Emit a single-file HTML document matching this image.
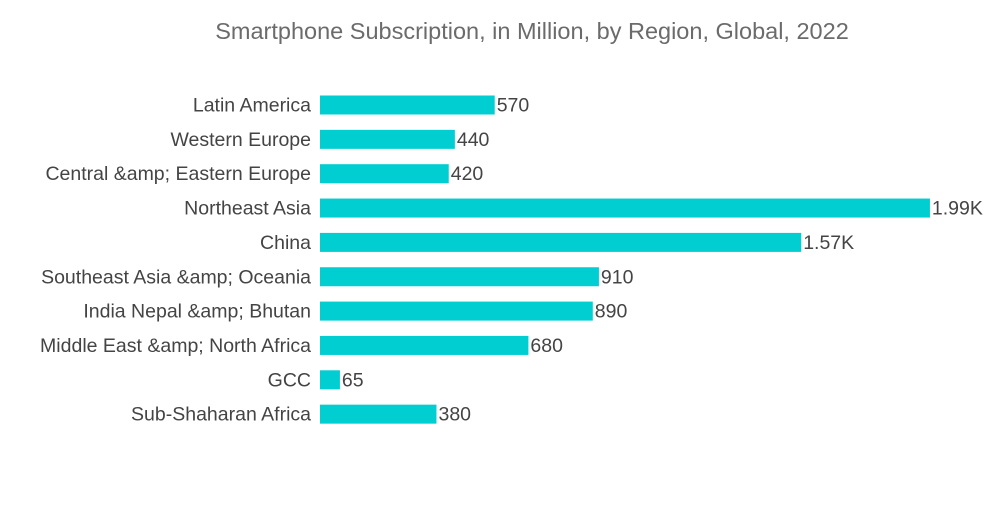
<!DOCTYPE html>
<html><head><meta charset="utf-8"><style>
body{margin:0;background:#fff;width:1000px;height:504px;overflow:hidden;font-family:"Liberation Sans",sans-serif}
</style></head><body>
<svg width="1000" height="504">
<text x="532" y="39" text-anchor="middle" font-size="23.5" fill="#6b6b6b">Smartphone Subscription, in Million, by Region, Global, 2022</text>
<g id="bars"></g>
</svg>
<script>
const categories=["Latin America","Western Europe","Central &amp; Eastern Europe","Northeast Asia","China","Southeast Asia &amp; Oceania","India Nepal &amp; Bhutan","Middle East &amp; North Africa","GCC","Sub-Shaharan Africa"];
const values=[570,440,420,1990,1570,910,890,680,65,380];
const valueLabels=["570","440","420","1.99K","1.57K","910","890","680","65","380"];
const x0=320, k=0.3065, top0=105, step=34.35, bh=19;
const xs=v=>x0+v*k, ys=i=>top0+i*step;
const g=document.getElementById('bars');
const ns='http://www.w3.org/2000/svg';
categories.forEach((c,i)=>{
 const r=document.createElementNS(ns,'rect');
 r.setAttribute('x',x0);r.setAttribute('y',ys(i)-bh/2);
 r.setAttribute('width',xs(values[i])-x0);r.setAttribute('height',bh);
 r.setAttribute('fill','#00ced1');
 
 
 g.appendChild(r);
 const t=document.createElementNS(ns,'text');
 t.setAttribute('x',311);t.setAttribute('y',ys(i)+6.5);t.setAttribute('text-anchor','end');
 t.setAttribute('font-size','19.5');t.setAttribute('fill','#444');
 t.textContent=c;
 
 
 g.appendChild(t);
 const v=document.createElementNS(ns,'text');
 v.setAttribute('x',xs(values[i])+2);v.setAttribute('y',ys(i)+6.5);
 v.setAttribute('font-size','19.5');v.setAttribute('fill','#444');
 v.textContent=valueLabels[i];
 
 
 g.appendChild(v);
});
</script>
</body></html>
